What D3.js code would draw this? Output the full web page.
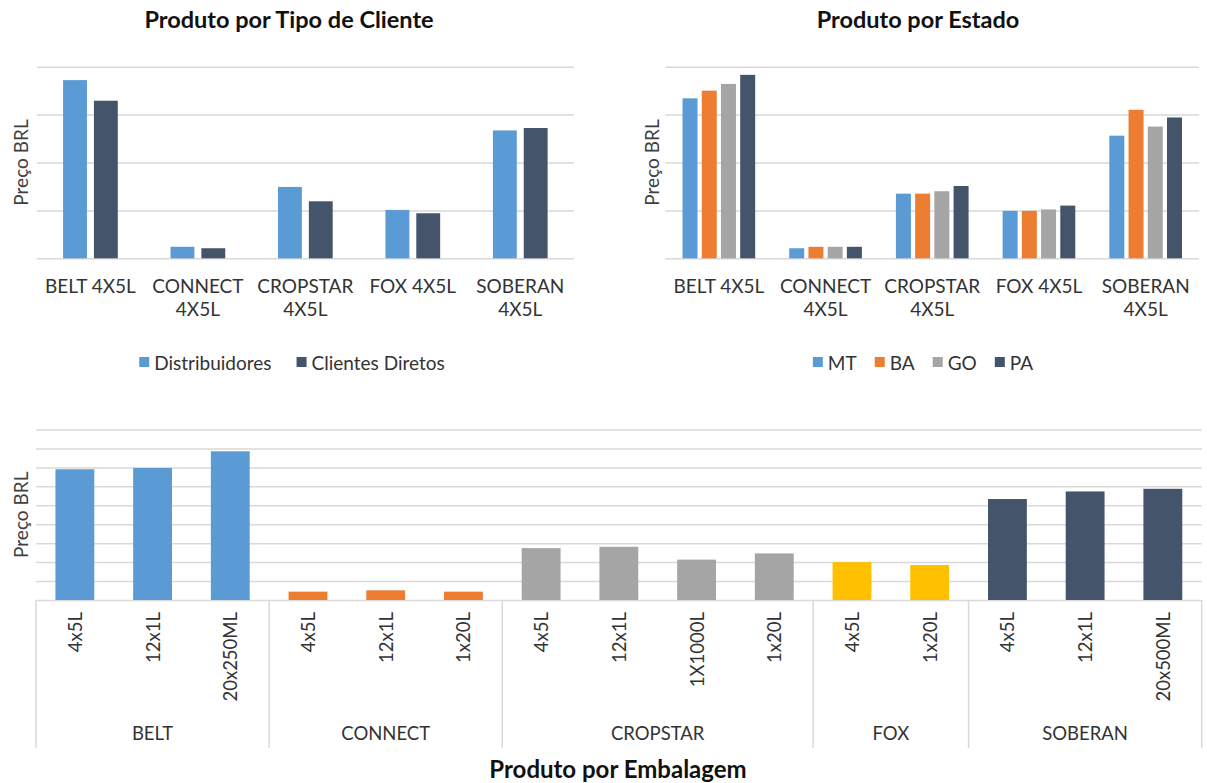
<!DOCTYPE html>
<html>
<head>
<meta charset="utf-8">
<script src="https://cdn.jsdelivr.net/npm/d3@7"></script>
<style>
  html, body { margin: 0; padding: 0; background: #ffffff; }
  svg { display: block; }
</style>
</head>
<body>
<svg id="chart" width="1207" height="783"></svg>
<script>
// ---------- DATA ----------
const categories = ["BELT 4X5L", "CONNECT 4X5L", "CROPSTAR 4X5L", "FOX 4X5L", "SOBERAN 4X5L"];

// Chart 1: Produto por Tipo de Cliente
const clientTypes = ["Distribuidores", "Clientes Diretos"];
const distribuidores = [3.72, 0.24, 1.49, 1.01, 2.67];
const clientesDiretos = [3.29, 0.21, 1.19, 0.94, 2.72];

// Chart 2: Produto por Estado
const states = ["MT", "BA", "GO", "PA"];
const valuesMT = [3.34, 0.21, 1.35, 0.99, 2.56];
const valuesBA = [3.50, 0.24, 1.35, 0.99, 3.10];
const valuesGO = [3.64, 0.24, 1.40, 1.02, 2.75];
const valuesPA = [3.83, 0.24, 1.51, 1.10, 2.94];
const topTicks = [0, 1, 2, 3, 4];

// Chart 3: Produto por Embalagem
const products = ["BELT", "CONNECT", "CROPSTAR", "FOX", "SOBERAN"];
const packagesBELT = ["4x5L", "12x1L", "20x250ML"];
const packagesCONNECT = ["4x5L", "12x1L", "1x20L"];
const packagesCROPSTAR = ["4x5L", "12x1L", "1X1000L", "1x20L"];
const packagesFOX = ["4x5L", "1x20L"];
const packagesSOBERAN = ["4x5L", "12x1L", "20x500ML"];
const valuesBELT = [6.90, 6.97, 7.85];
const valuesCONNECT = [0.44, 0.51, 0.44];
const valuesCROPSTAR = [2.74, 2.81, 2.13, 2.46];
const valuesFOX = [2.00, 1.85];
const valuesSOBERAN = [5.33, 5.73, 5.87];
const bottomTicks = [0, 1, 2, 3, 4, 5, 6, 7, 8, 9];

// ---------- STYLE ----------
const FONT = "Lato, 'Open Sans', 'Liberation Sans', sans-serif";
const TEXT = "#333333";
const GRID = "#d9d9d9";
const LABEL_SIZE = "19px";
const C_BLUE = "#5b9bd5", C_ORANGE = "#ed7d31", C_GRAY = "#a5a5a5", C_NAVY = "#44546a", C_YELLOW = "#ffc000";

const svg = d3.select("#chart");
svg.append("rect").attr("width", 1207).attr("height", 783).attr("fill", "#fff");

function title(text, x, y, size) {
  svg.append("text").attr("x", x).attr("y", y)
    .attr("text-anchor", "middle").attr("dominant-baseline", "central")
    .style("font-family", FONT).style("font-weight", "bold").style("font-size", size)
    .attr("fill", "#111").text(text);
}
function yTitle(x, y) {
  svg.append("text").attr("transform", `translate(${x},${y}) rotate(-90)`)
    .attr("text-anchor", "middle").attr("dominant-baseline", "central")
    .style("font-family", FONT).style("font-size", LABEL_SIZE).attr("fill", "#404040")
    .text("Preço BRL");
}

// ---------- Grouped chart ----------
function groupedChart(opt) {
  const { x0r, yr, seriesNames, seriesValues, colors, ticks, groupFrac, innerPad, labelY, yTitleX } = opt;
  const g = svg.append("g");
  const y = d3.scaleLinear().domain([0, d3.max(ticks)]).range(yr);
  const x0 = d3.scaleBand().domain(categories).range(x0r)
    .paddingInner(1 - groupFrac).paddingOuter((1 - groupFrac) / 2);
  const x1 = d3.scaleBand().domain(seriesNames).range([0, x0.bandwidth()]).paddingInner(innerPad);

  const yAxis = d3.axisLeft(y).tickValues(ticks).tickSize(-(x0r[1] - x0r[0])).tickFormat("");
  const ga = g.append("g").attr("transform", `translate(${x0r[0]},0)`).call(yAxis);
  ga.select(".domain").remove();
  ga.selectAll(".tick line").attr("stroke", GRID).attr("stroke-width", 1.5);

  categories.forEach((c, ci) => {
    seriesNames.forEach((s, si) => {
      const v = seriesValues[si][ci];
      g.append("rect")
        .attr("x", x0(c) + x1(s)).attr("width", x1.bandwidth())
        .attr("y", y(v)).attr("height", y(0) - y(v))
        .attr("fill", colors[si]);
    });
  });

  const maxW = x0.step() - 6;
  categories.forEach(c => {
    const cx = x0(c) + x0.bandwidth() / 2;
    const t = g.append("text").attr("x", cx).attr("y", labelY)
      .attr("text-anchor", "middle").attr("dominant-baseline", "central")
      .style("font-family", FONT).style("font-size", LABEL_SIZE).attr("fill", TEXT).text(c);
    if (t.node().getComputedTextLength() > maxW) {
      const parts = c.split(" ");
      t.text(null);
      t.append("tspan").attr("x", cx).attr("y", labelY).text(parts.slice(0, -1).join(" "));
      t.append("tspan").attr("x", cx).attr("y", labelY + 23).text(parts[parts.length - 1]);
    }
  });
  yTitle(yTitleX, (yr[0] + yr[1]) / 2);
}

function legend(items, colors, cx, cy, gap) {
  const g = svg.append("g");
  let x = 0;
  items.forEach((name, i) => {
    g.append("rect").attr("x", x).attr("y", cy - 5).attr("width", 10).attr("height", 10).attr("fill", colors[i]);
    const t = g.append("text").attr("x", x + 15).attr("y", cy).attr("dominant-baseline", "central")
      .style("font-family", FONT).style("font-size", LABEL_SIZE).attr("fill", TEXT).text(name);
    x += 15 + t.node().getComputedTextLength() + gap;
  });
  const total = x - gap;
  g.attr("transform", `translate(${cx - total / 2},0)`);
}

// Chart 1
title("Produto por Tipo de Cliente", 289, 19, "23.5px");
groupedChart({
  x0r: [36.7, 574], yr: [258.3, 66.7],
  seriesNames: clientTypes, seriesValues: [distribuidores, clientesDiretos],
  colors: [C_BLUE, C_NAVY], ticks: topTicks, groupFrac: 0.509, innerPad: 0.226,
  labelY: 285, yTitleX: 20
});
legend(clientTypes, [C_BLUE, C_NAVY], 292, 362, 25);

// Chart 2
title("Produto por Estado", 918, 19, "23.5px");
groupedChart({
  x0r: [665.5, 1199], yr: [258.3, 66.7],
  seriesNames: states, seriesValues: [valuesMT, valuesBA, valuesGO, valuesPA],
  colors: [C_BLUE, C_ORANGE, C_GRAY, C_NAVY], ticks: topTicks, groupFrac: 0.681, innerPad: 0.22,
  labelY: 285, yTitleX: 651
});
legend(states, [C_BLUE, C_ORANGE, C_GRAY, C_NAVY], 923, 362, 18);

// Chart 3
(function () {
  const packages = [packagesBELT, packagesCONNECT, packagesCROPSTAR, packagesFOX, packagesSOBERAN];
  const values = [valuesBELT, valuesCONNECT, valuesCROPSTAR, valuesFOX, valuesSOBERAN];
  const colors = [C_BLUE, C_ORANGE, C_GRAY, C_YELLOW, C_NAVY];
  const rows = [];
  products.forEach((p, pi) => packages[pi].forEach((k, ki) =>
    rows.push({ id: p + "|" + k, product: p, pi, pack: k, value: values[pi][ki] })));

  const left = 36, right = 1201.7, base = 600, topY = 429.5;
  const g = svg.append("g");
  const y = d3.scaleLinear().domain([0, d3.max(bottomTicks)]).range([base, topY]);
  const x = d3.scaleBand().domain(rows.map(r => r.id)).range([left, right]).paddingInner(0.5).paddingOuter(0.25);

  const yAxis = d3.axisLeft(y).tickValues(bottomTicks).tickSize(-(right - left)).tickFormat("");
  const ga = g.append("g").attr("transform", `translate(${left},0)`).call(yAxis);
  ga.select(".domain").remove();
  ga.selectAll(".tick line").attr("stroke", GRID).attr("stroke-width", 1.5);

  g.selectAll("rect.bar").data(rows).enter().append("rect").attr("class", "bar")
    .attr("x", d => x(d.id)).attr("width", x.bandwidth())
    .attr("y", d => y(d.value)).attr("height", d => y(0) - y(d.value))
    .attr("fill", d => colors[d.pi]);

  rows.forEach(r => {
    const cx = x(r.id) + x.bandwidth() / 2;
    g.append("text").attr("transform", `translate(${cx},612) rotate(-90)`)
      .attr("text-anchor", "end").attr("dominant-baseline", "central")
      .style("font-family", FONT).style("font-size", "18.5px").attr("fill", TEXT).text(r.pack);
  });

  const step = x.step();
  const bounds = [];
  products.forEach((p, pi) => {
    const pr = rows.filter(r => r.pi === pi);
    const x0 = x(pr[0].id) - step * 0.25;
    const x1 = x(pr[pr.length - 1].id) + x.bandwidth() + step * 0.25;
    bounds.push(x0);
    if (pi === products.length - 1) bounds.push(x1);
    g.append("text").attr("x", (x0 + x1) / 2).attr("y", 733)
      .attr("text-anchor", "middle").attr("dominant-baseline", "central")
      .style("font-family", FONT).style("font-size", "18.5px").attr("fill", TEXT).text(p);
  });
  bounds.forEach(bx => {
    g.append("line").attr("x1", bx).attr("x2", bx).attr("y1", base).attr("y2", 748)
      .attr("stroke", GRID).attr("stroke-width", 1.5);
  });

  yTitle(20, (base + topY) / 2);
  title("Produto por Embalagem", 618, 768, "24px");
})();
</script>
</body>
</html>
